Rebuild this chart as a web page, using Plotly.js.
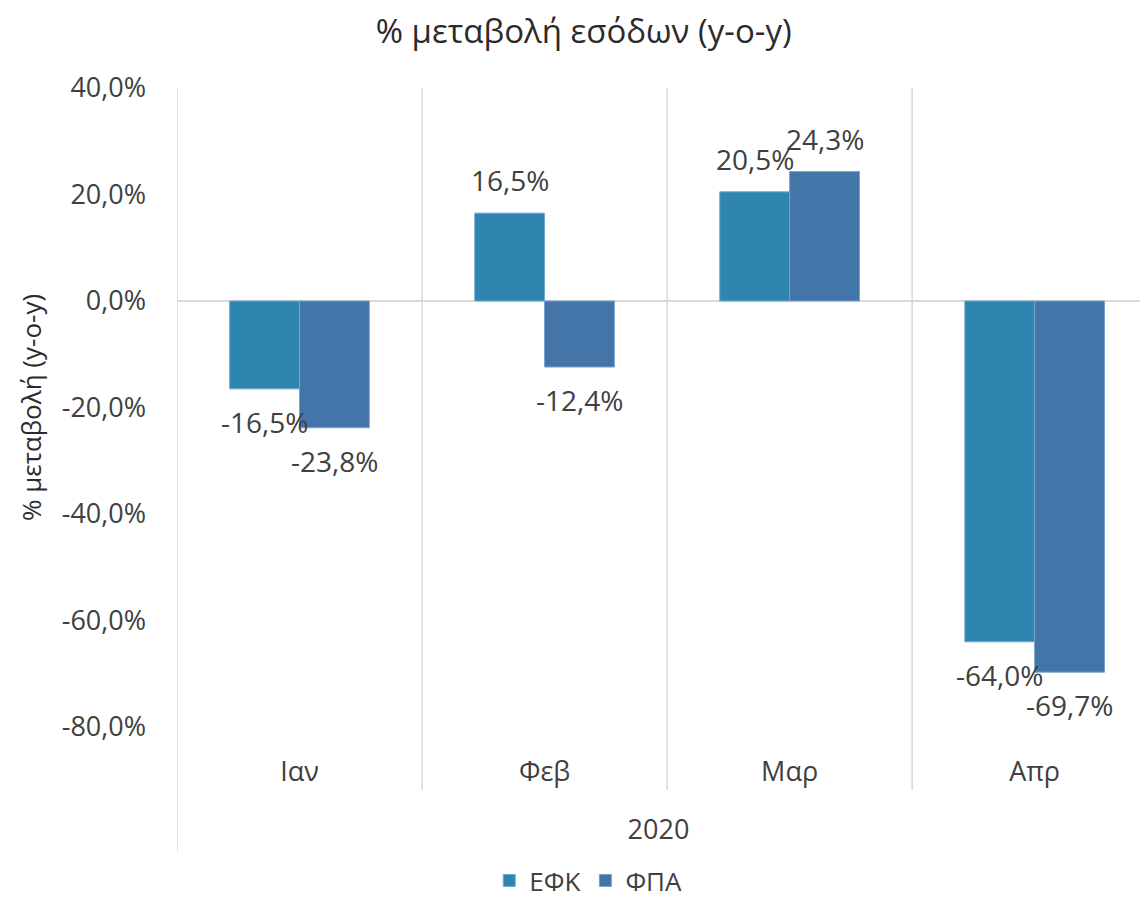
<!DOCTYPE html>
<html>
<head>
<meta charset="utf-8">
<script src="https://cdn.plot.ly/plotly-3.0.1.min.js"></script>
<style>html,body{margin:0;padding:0;background:#fff;}#chart{width:1140px;height:904px;}</style>
</head>
<body>
<div id="chart"></div>
<script>
const categories = ["Ιαν", "Φεβ", "Μαρ", "Απρ"];
const efk = [-16.5, 16.5, 20.5, -64.0];
const fpa = [-23.8, -12.4, 24.3, -69.7];
const seriesNames = ["ΕΦΚ", "ΦΠΑ"];
const yearLabel = "2020";
const yTicks = [40, 20, 0, -20, -40, -60, -80];

const FONT = "Open Sans, Noto Sans, DejaVu Sans, sans-serif";
const TXT = "#404040";
const fmt = v => v.toFixed(1).replace(".", ",") + "%";

const xIdx = categories.map((c, i) => i);

const traces = [
  {type: "bar", name: seriesNames[0], x: xIdx, y: efk,
   marker: {color: "#2E86B0", line: {color: "#6FA8CF", width: 1}}},
  {type: "bar", name: seriesNames[1], x: xIdx, y: fpa,
   marker: {color: "#4375A8", line: {color: "#7AA2CC", width: 1}}}
];

// data labels, anchored to each bar's value
const annotations = [];
[efk, fpa].forEach((series, s) => {
  series.forEach((v, i) => {
    annotations.push({
      x: i, y: v, xref: "x", yref: "y", text: fmt(v), showarrow: false,
      xshift: s === 0 ? -35 : 35, yshift: v >= 0 ? 33 : -33,
      font: {family: FONT, size: 28, color: TXT}
    });
  });
});

const shapes = [];
[0.5, 1.5, 2.5].forEach(v => shapes.push({type: "line", xref: "x", yref: "paper", x0: v, x1: v, y0: -0.0986, y1: 1, line: {color: "#D9D9D9", width: 1.5}, layer: "below"}));
shapes.push({type: "line", xref: "x", yref: "paper", x0: -0.5, x1: -0.5, y0: -0.1956, y1: 1, line: {color: "#D9D9D9", width: 1.5}, layer: "below"});

const layout = {
  width: 1140, height: 904,
  margin: {l: 177, r: 0, t: 88, b: 177},
  paper_bgcolor: "#fff", plot_bgcolor: "#fff",
  font: {family: FONT, color: TXT},
  title: {text: "% μεταβολή εσόδων (y-o-y)", x: 0.512, xanchor: "center", y: 0.965, yanchor: "middle",
          font: {family: FONT, size: 33, color: "#2b2b2b"}},
  barmode: "group", bargap: 0.43, bargroupgap: 0,
  xaxis: {range: [-0.5, 3.43], tickmode: "array", tickvals: xIdx, ticktext: categories,
          showgrid: false, zeroline: false, showline: false, ticks: "",
          ticklabelstandoff: 26,
          tickfont: {family: FONT, size: 27, color: TXT},
          title: {text: yearLabel, standoff: 32, font: {family: FONT, size: 27, color: TXT}}},
  yaxis: {range: [-80, 40], tickmode: "array", tickvals: yTicks, ticktext: yTicks.map(fmt),
          showgrid: false, zeroline: true, zerolinecolor: "#D9D9D9", zerolinewidth: 1.5,
          showline: false, ticks: "", ticklabelstandoff: 30,
          tickfont: {family: FONT, size: 27, color: TXT},
          title: {text: "% μεταβολή (y-o-y)", standoff: 12, font: {family: FONT, size: 26, color: "#2b2b2b"}}},
  showlegend: true,
  legend: {orientation: "h", xref: "container", yref: "container", x: 0.516, xanchor: "center", y: -0.008, yanchor: "bottom",
           font: {family: FONT, size: 26, color: TXT}, itemwidth: 30, traceorder: "normal"},
  shapes: shapes,
  annotations: annotations
};

Plotly.newPlot("chart", traces, layout, {displayModeBar: false, staticPlot: true});
</script>
</body>
</html>
